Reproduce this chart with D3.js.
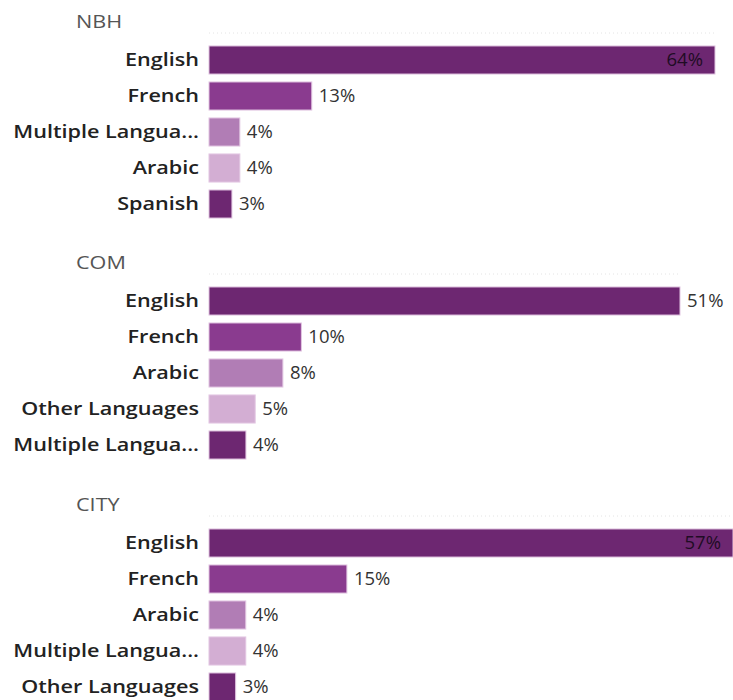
<!DOCTYPE html>
<html>
<head>
<meta charset="utf-8">
<script src="https://cdn.jsdelivr.net/npm/d3@7"></script>
<style>
  body { margin: 0; background: #fff; }
  svg { display: block; font-family: "Open Sans", sans-serif; }
</style>
</head>
<body>
<svg id="chart"></svg>
<script>
// panel names
const panels = ["NBH", "COM", "CITY"];

// categories per panel (display labels, already truncated like the source)
const nbhLangs  = ["English", "French", "Multiple Langua...", "Arabic", "Spanish"];
const comLangs  = ["English", "French", "Arabic", "Other Languages", "Multiple Langua..."];
const cityLangs = ["English", "French", "Arabic", "Multiple Langua...", "Other Languages"];

// share of people (%)
const nbhValues  = [64, 13, 3.9, 3.9, 2.9];
const comValues  = [51, 10, 8, 5, 4];
const cityValues = [57, 15, 4, 4, 2.9];

const langs = [nbhLangs, comLangs, cityLangs];
const values = [nbhValues, comValues, cityValues];

const width = 733, height = 700;
const barLeft = 209;
const panelTop = [42, 283, 525];
const panelRight = [715, 680, 733];
const barColors = ["#6d2771", "#8a3b8f", "#b17db5", "#d3aed3", "#6d2771"];

// the source renders titles and labels a bit wide
const labelStretch = 1.2;
const titleStretch = 1.2;

const svg = d3.select("#chart")
    .attr("width", width)
    .attr("height", height);

panels.forEach((name, p) => {
    const data = langs[p].map((l, i) => ({ lang: l, value: values[p][i], idx: i }));

    const x = d3.scaleLinear()
        .domain([0, d3.max(data, d => d.value)])
        .range([barLeft, panelRight[p]]);

    const y = d3.scaleBand()
        .domain(data.map(d => d.idx))
        .range([panelTop[p], panelTop[p] + 180])
        .paddingInner(0.22)
        .paddingOuter(0.11);

    const g = svg.append("g").attr("class", "panel");

    // panel title
    g.append("text")
        .attr("transform", `translate(76,${panelTop[p] - 14}) scale(${titleStretch},1)`)
        .attr("font-size", 18)
        .attr("fill", "#555")
        .text(name);

    // faint dotted rule above the bars
    g.append("line")
        .attr("x1", barLeft).attr("x2", panelRight[p])
        .attr("y1", panelTop[p] - 9).attr("y2", panelTop[p] - 9)
        .attr("stroke", "#e4e4e4")
        .attr("stroke-dasharray", "1,3");

    // category labels
    g.selectAll(".cat")
        .data(data)
        .join("text")
        .attr("class", "cat")
        .attr("transform", d => `translate(${barLeft - 10},${y(d.idx) + y.bandwidth() / 2}) scale(${labelStretch},1)`)
        .attr("dy", "0.35em")
        .attr("text-anchor", "end")
        .attr("font-size", 18)
        .attr("font-weight", 600)
        .attr("fill", "#222")
        .text(d => d.lang);

    // bars
    g.selectAll(".bar")
        .data(data)
        .join("rect")
        .attr("class", "bar")
        .attr("x", x(0))
        .attr("y", d => y(d.idx))
        .attr("width", d => x(d.value) - x(0))
        .attr("height", y.bandwidth())
        .attr("fill", d => barColors[d.idx])
        .attr("stroke", "#e2c6e2")
        .attr("stroke-width", 1);

    // value labels: outside the bar unless it would run off the page
    g.selectAll(".val")
        .data(data)
        .join("text")
        .attr("class", "val")
        .each(function(d) {
            const end = x(d.value);
            const inside = end + 45 > width;
            d3.select(this)
                .attr("x", inside ? end - 12 : end + 7)
                .attr("text-anchor", inside ? "end" : "start")
                .attr("fill", inside ? "#1f0c24" : "#333");
        })
        .attr("y", d => y(d.idx) + y.bandwidth() / 2)
        .attr("dy", "0.35em")
        .attr("font-size", 18.5)
        .text(d => Math.round(d.value) + "%");
});
</script>
</body>
</html>
